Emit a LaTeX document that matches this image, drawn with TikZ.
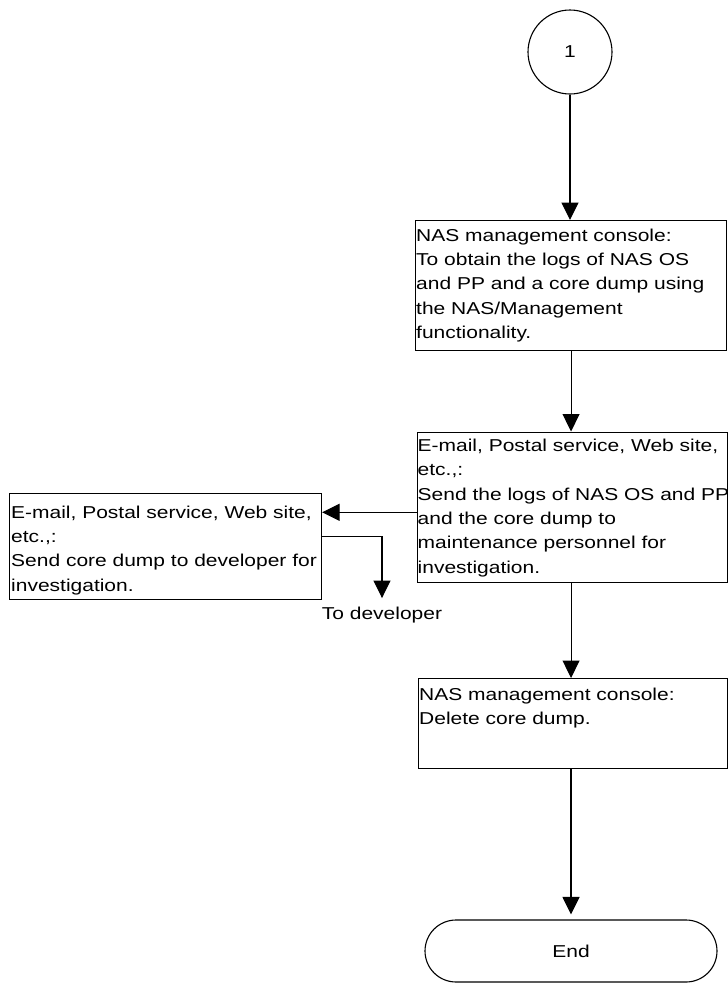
\documentclass[tikz,border=0pt]{standalone}
\usepackage{fontspec}
\setmainfont{Liberation Sans}[FakeStretch=1.22]
\usetikzlibrary{arrows.meta}
\begin{document}
\begin{tikzpicture}[x=1pt,y=-1pt,
  every node/.style={font=\fontsize{17.2}{24.3}\selectfont},
  stepbox/.style={draw, line width=1.1pt, rectangle, inner sep=0pt, anchor=north west},
  txt/.style={inner sep=0pt, anchor=north west, align=left},
  conn/.style={line width=1.1pt, -{Triangle[length=17.5pt,width=17pt]}}]
\useasboundingbox (0,0) rectangle (728,983);
\node[draw, circle, line width=1.1pt, minimum size=84pt, inner sep=0pt] (c1) at (570,52) {1};
\node[stepbox, minimum width=311pt, minimum height=129.5pt] (b1) at (415,220) {};
\node[txt] (t1) at (416,228.7) {NAS management console:\\To obtain the logs of NAS OS\\and PP and a core dump using\\the NAS/Management\\functionality.};
\node[stepbox, minimum width=310.5pt, minimum height=150.5pt] (b2) at (416.5,431.5) {};
\node[txt] (t2) at (417.5,439) {E-mail, Postal service, Web site,\\etc.,:\\Send the logs of NAS OS and PP\\and the core dump to\\maintenance personnel for\\investigation.};
\node[stepbox, minimum width=312pt, minimum height=106pt] (b4) at (9,493.3) {};
\node[txt] (t4) at (11,505.5) {E-mail, Postal service, Web site,\\etc.,:\\Send core dump to developer for\\investigation.};
\node[inner xsep=0pt, inner ysep=8.3pt, anchor=base] (dev) at (382,619) {To developer};
\node[stepbox, minimum width=309pt, minimum height=90pt] (b3) at (418,678) {};
\node[txt] (t3) at (419,688) {NAS management console:\\Delete core dump.};
\node[draw, line width=1.1pt, rounded corners=31pt, minimum width=292pt, minimum height=62pt] (e) at (571,951) {End};
\draw[conn] (c1.south) -- (c1.south |- b1.north);
\draw[conn] (b1.south) -- (b1.south |- b2.north);
\draw[conn] (b1.south |- b2.south) -- (b1.south |- b3.north);
\draw[conn] (e.north |- b3.south) -- ([yshift=5pt]e.north);
\draw[conn] ([yshift=-5pt]b2.west) -- ([yshift=-5pt]b2.west -| b4.east);
\draw[conn] ([yshift=10pt]b4.east) -| (dev.north);
\end{tikzpicture}
\end{document}
